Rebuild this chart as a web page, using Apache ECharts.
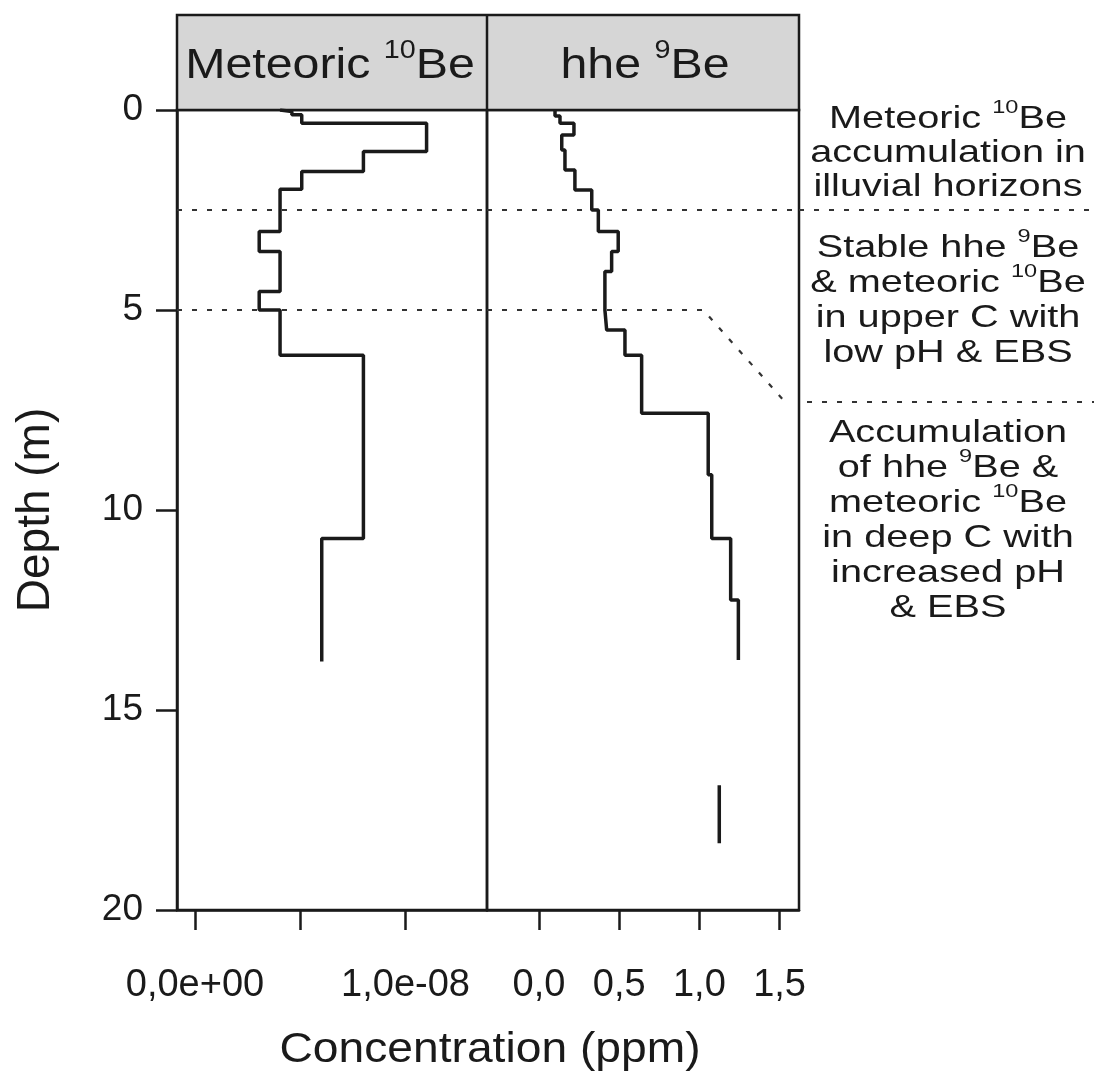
<!DOCTYPE html>
<html><head><meta charset="utf-8">
<script src="https://cdn.jsdelivr.net/npm/echarts@6/dist/echarts.min.js"></script>
<style>html,body{margin:0;padding:0;background:#fff}#c{width:1096px;height:1080px}</style>
</head><body><div id="c"></div>
<script>
const FONT = '"Liberation Sans", Arial, Helvetica, sans-serif';
const INK = '#1a1a1a';

// Meteoric 10Be profile: layer tops/bottoms (m) and concentration (ppm)
const meteoricTop    = [0,    0.04, 0.12, 0.33, 1.04, 1.54, 1.98, 3.04, 3.54, 4.54, 5.0,  6.13, 10.71];
const meteoricBottom = [0.04, 0.12, 0.33, 1.04, 1.54, 1.98, 3.04, 3.54, 4.54, 5.0,  6.13, 10.71, 13.79];
const meteoricConc   = [4.04e-9, 4.6e-9, 5.07e-9, 11.0e-9, 8.0e-9, 5.07e-9, 4.04e-9, 3.05e-9, 4.04e-9, 3.05e-9, 4.04e-9, 8.0e-9, 6.02e-9];

// hhe 9Be profile
const hheTop    = [0,    0.15, 0.33, 0.625, 1.0, 1.5,  2.0,  2.5,  3.04, 3.54, 4.04, 5.0,  5.5,  6.13, 7.58, 9.12, 10.71, 12.25];
const hheBottom = [0.15, 0.33, 0.625, 1.0,  1.5, 2.0,  2.5,  3.04, 3.54, 4.04, 5.0,  5.5,  6.13, 7.58, 9.12, 10.71, 12.25, 13.75];
const hheConc   = [0.10, 0.131, 0.218, 0.142, 0.162, 0.224, 0.329, 0.37, 0.494, 0.453, 0.411, 0.422, 0.536, 0.64, 1.055, 1.077, 1.195, 1.243];
const hheDeepTop = [16.88];
const hheDeepBottom = [18.33];
const hheDeepConc = [1.124];

// axes
const depthRange = [0, 20];
const depthInterval = 5;
const meteoricRange = [-0.855e-9, 13.87e-9];
const meteoricTicks = [0, 5e-9, 1e-8];
const meteoricLabels = [0, 1e-8];
const hheRange = [-0.324, 1.621];
const hheTicks = [0, 0.5, 1.0, 1.5];

// zone boundaries (depth, m)
const zoneUpper = 2.5;
const zoneMid = 5;
const zoneLower = 7.3;
const zoneSlopeConc = [1.024, 1.534];

const panelTitles = ['{a|Meteoric }{s|10}{a|Be}', '{a|hhe }{s|9}{a|Be}'];
const zoneText1 = ['{a|Meteoric }{s|10}{a|Be}', '{a|accumulation in}', '{a|illuvial horizons}'];
const zoneText2 = ['{a|Stable hhe }{s|9}{a|Be}', '{a|& meteoric }{s|10}{a|Be}', '{a|in upper C with}', '{a|low pH & EBS}'];
const zoneText3 = ['{a|Accumulation}', '{a|of hhe }{s|9}{a|Be &}', '{a|meteoric }{s|10}{a|Be}', '{a|in deep C with}', '{a|increased pH}', '{a|& EBS}'];

function stepPoints(tops, bottoms, vals) {
  const pts = [];
  for (let i = 0; i < tops.length; i++) {
    pts.push([vals[i], tops[i]], [vals[i], bottoms[i]]);
  }
  return pts;
}
function fmtExp(v) {
  const s = Number(v).toExponential(1);
  let [m, e] = s.split('e');
  const sign = e[0] === '-' ? '-' : '+';
  e = e.replace(/^[+-]/, '');
  if (e.length < 2) e = '0' + e;
  return m.replace('.', ',') + 'e' + sign + e;
}
function fmtDec(v) { return Number(v).toFixed(1).replace('.', ','); }

const chart = echarts.init(document.getElementById('c'), null, {renderer: 'canvas'});

const L = {left: 177, w: 310}, R = {left: 487, w: 312}, TOP = 110, H = 800;
const axisLineStyle = {color: INK, width: 2.5};
const dotStyle = {color: '#333', width: 2.2, type: [5, 10]};

function richStyle(size) {
  return {
    a: {fontSize: size, fontFamily: FONT, fill: INK, color: INK, lineHeight: Math.round(size * 1.3)},
    s: {fontSize: Math.round(size * 0.6), fontFamily: FONT, fill: INK, color: INK, verticalAlign: 'top', lineHeight: Math.round(size * 0.6)}
  };
}

const option = {
  backgroundColor: '#ffffff',
  animation: false,
  grid: [
    {left: L.left, top: TOP, width: L.w, height: H, show: true, borderColor: INK, borderWidth: 2.5, backgroundColor: 'transparent'},
    {left: R.left, top: TOP, width: R.w, height: H, show: true, borderColor: INK, borderWidth: 2.5, backgroundColor: 'transparent'}
  ],
  xAxis: [
    {type: 'value', gridIndex: 0, min: meteoricRange[0], max: meteoricRange[1], position: 'bottom',
     axisLine: {show: true, onZero: false, lineStyle: axisLineStyle},
     axisTick: {show: true, customValues: meteoricTicks, length: 20, lineStyle: axisLineStyle},
     axisLabel: {customValues: meteoricLabels, formatter: fmtExp, fontSize: 38, fontFamily: FONT, color: INK, margin: 57},
     splitLine: {show: false}},
    {type: 'value', gridIndex: 1, min: hheRange[0], max: hheRange[1], position: 'bottom',
     axisLine: {show: true, onZero: false, lineStyle: axisLineStyle},
     axisTick: {show: true, customValues: hheTicks, length: 20, lineStyle: axisLineStyle},
     axisLabel: {customValues: hheTicks, formatter: fmtDec, fontSize: 38, fontFamily: FONT, color: INK, margin: 57},
     splitLine: {show: false}}
  ],
  yAxis: [
    {type: 'value', gridIndex: 0, inverse: true, min: depthRange[0], max: depthRange[1], interval: depthInterval,
     axisLine: {show: true, onZero: false, lineStyle: axisLineStyle},
     axisTick: {show: true, length: 21, lineStyle: axisLineStyle},
     axisLabel: {fontSize: 37, fontFamily: FONT, color: INK, margin: 34},
     splitLine: {show: false},
     name: 'Depth (m)', nameLocation: 'middle', nameRotate: 90, nameGap: 118,
     nameTextStyle: {fontSize: 46, fontFamily: FONT, color: INK}},
    {type: 'value', gridIndex: 1, inverse: true, min: depthRange[0], max: depthRange[1], interval: depthInterval, show: false}
  ],
  series: [
    {name: 'Meteoric 10Be', type: 'line', xAxisIndex: 0, yAxisIndex: 0, showSymbol: false, symbol: 'none',
     data: stepPoints(meteoricTop, meteoricBottom, meteoricConc), lineStyle: {color: INK, width: 3.5}, z: 5},
    {name: 'hhe 9Be', type: 'line', xAxisIndex: 1, yAxisIndex: 1, showSymbol: false, symbol: 'none',
     data: stepPoints(hheTop, hheBottom, hheConc), lineStyle: {color: INK, width: 3.5}, z: 5},
    {name: 'hhe 9Be deep', type: 'line', xAxisIndex: 1, yAxisIndex: 1, showSymbol: false, symbol: 'none',
     data: stepPoints(hheDeepTop, hheDeepBottom, hheDeepConc), lineStyle: {color: INK, width: 3.5}, z: 5},
    {type: 'line', xAxisIndex: 0, yAxisIndex: 0, showSymbol: false, symbol: 'none', silent: true,
     data: [[meteoricRange[0], zoneUpper], [meteoricRange[1], zoneUpper]], lineStyle: dotStyle},
    {type: 'line', xAxisIndex: 0, yAxisIndex: 0, showSymbol: false, symbol: 'none', silent: true,
     data: [[meteoricRange[0], zoneMid], [meteoricRange[1], zoneMid]], lineStyle: dotStyle},
    {type: 'line', xAxisIndex: 1, yAxisIndex: 1, showSymbol: false, symbol: 'none', silent: true,
     data: [[hheRange[0], zoneUpper], [hheRange[1], zoneUpper]], lineStyle: dotStyle},
    {type: 'line', xAxisIndex: 1, yAxisIndex: 1, showSymbol: false, symbol: 'none', silent: true,
     data: [[hheRange[0], zoneMid], [zoneSlopeConc[0], zoneMid], [zoneSlopeConc[1], zoneLower]], lineStyle: dotStyle}
  ]
};
chart.setOption(option);

// Overlay elements: strip, annotations, axis title, boundary extensions
const yUpper = chart.convertToPixel({yAxisIndex: 0}, zoneUpper);
const yLower = chart.convertToPixel({yAxisIndex: 0}, zoneLower);
const yTop = chart.convertToPixel({yAxisIndex: 0}, depthRange[0]);
const xL0 = chart.convertToPixel({xAxisIndex: 0}, meteoricRange[0]);
const xMid = chart.convertToPixel({xAxisIndex: 0}, meteoricRange[1]);
const xR1 = chart.convertToPixel({xAxisIndex: 1}, hheRange[1]);
const stripTop = 15;

const graphics = [
  {type: 'rect', shape: {x: xL0, y: stripTop, width: xR1 - xL0, height: yTop - stripTop},
   style: {fill: '#d6d6d6', stroke: INK, lineWidth: 2.5}, z: 1},
  {type: 'line', shape: {x1: xMid, y1: stripTop, x2: xMid, y2: yTop}, style: {stroke: INK, lineWidth: 2.5}, z: 2},
  {type: 'text', x: (xL0 + xMid) / 2 - 2, y: (stripTop + yTop) / 2 + 4, scaleX: 1.15, z: 3,
   style: {text: panelTitles[0], rich: richStyle(42), align: 'center', verticalAlign: 'middle'}},
  {type: 'text', x: (xMid + xR1) / 2 + 2, y: (stripTop + yTop) / 2 + 4, scaleX: 1.15, z: 3,
   style: {text: panelTitles[1], rich: richStyle(42), align: 'center', verticalAlign: 'middle'}},
  {type: 'line', shape: {x1: xR1, y1: yUpper, x2: 1096, y2: yUpper}, style: {stroke: '#333', lineWidth: 2.2, lineDash: [5, 10]}},
  {type: 'line', shape: {x1: xR1 + 8, y1: yLower, x2: 1094, y2: yLower}, style: {stroke: '#333', lineWidth: 2.2, lineDash: [5, 10]}},
  {type: 'text', x: (xL0 + xR1) / 2 + 2, y: 1050, scaleX: 1.1,
   style: {text: 'Concentration (ppm)', fontSize: 42, fontFamily: FONT, fill: INK, align: 'center', verticalAlign: 'middle'}}
];
function addBlock(lines, y0, step) {
  lines.forEach((t, i) => {
    graphics.push({type: 'text', x: 948, y: y0 + i * step, scaleX: 1.24,
      style: {text: t, rich: richStyle(32), align: 'center', verticalAlign: 'middle'}});
  });
}
addBlock(zoneText1, 119, 34);
addBlock(zoneText2, 248, 35);
addBlock(zoneText3, 433, 35);
chart.setOption({graphic: graphics});
</script></body></html>
